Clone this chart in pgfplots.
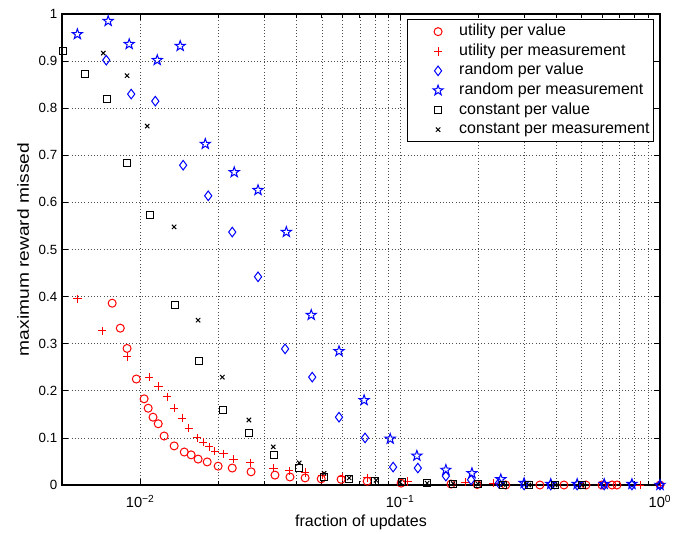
\documentclass[border=0pt]{standalone}
\usepackage{fontspec}
\setmainfont{Liberation Sans}
\usepackage{pgfplots}
\pgfplotsset{compat=1.18}

% MATLAB-style outlined pentagram
\pgfdeclareplotmark{pentagram}{%
  \pgfpathmoveto{\pgfpointpolar{90}{\pgfplotmarksize}}%
  \pgfpathlineto{\pgfpointpolar{126}{0.40\pgfplotmarksize}}%
  \pgfpathlineto{\pgfpointpolar{162}{\pgfplotmarksize}}%
  \pgfpathlineto{\pgfpointpolar{198}{0.40\pgfplotmarksize}}%
  \pgfpathlineto{\pgfpointpolar{234}{\pgfplotmarksize}}%
  \pgfpathlineto{\pgfpointpolar{270}{0.40\pgfplotmarksize}}%
  \pgfpathlineto{\pgfpointpolar{306}{\pgfplotmarksize}}%
  \pgfpathlineto{\pgfpointpolar{342}{0.40\pgfplotmarksize}}%
  \pgfpathlineto{\pgfpointpolar{18}{\pgfplotmarksize}}%
  \pgfpathlineto{\pgfpointpolar{54}{0.40\pgfplotmarksize}}%
  \pgfpathclose\pgfusepathqstroke}

\begin{document}
\begin{tikzpicture}
\begin{axis}[
    name=ax,
    scale only axis,
    width=448.5pt, height=353.25pt,
    xmode=log,
    xmin=0.005, xmax=1,
    ymin=0, ymax=1,
    clip=false,
    xtick={0.01,0.1,1},
    xticklabels={10\textsuperscript{−2},10\textsuperscript{−1},10\textsuperscript{0}},
    ytick={0,0.1,...,1},
    /pgf/number format/assume math mode=true,
    yticklabel style={font=\fontsize{10}{12}\selectfont},
    xticklabel style={font=\fontsize{11}{13}\selectfont, yshift=-4pt},
    grid=both,
    major grid style={dotted, black!70, line width=0.5pt},
    minor grid style={dotted, black!70, line width=0.5pt},
    axis line style={line width=0.8pt},
    tick style={black, line width=0.6pt},
    xlabel={fraction of updates},
    ylabel={\scalebox{1.2}[1]{maximum reward missed}},
    label style={font=\fontsize{12}{14}\selectfont},
    xlabel style={at={(axis description cs:0.5,-0.0786)}, anchor=center},
    ylabel style={at={(axis description cs:-0.065,0.5)}, anchor=center},
    legend cell align=left,
    legend style={at={(0.99,0.989)}, anchor=north east, draw=black,
        line width=0.7pt, font=\fontsize{12}{14}\selectfont,
        inner xsep=2pt, inner ysep=3pt, row sep=2.7pt,
        nodes={inner xsep=1pt, inner ysep=0pt, text height=9pt, text depth=3pt}},
    legend image code/.code={%
        \path (0pt,0pt) (35pt,0pt);
        \draw[#1, only marks] plot coordinates {(20.5pt,0pt)};},
    every axis plot/.append style={only marks, line width=0.75pt},
]
% utility per value
\addplot[red, mark=o, mark size=3pt] coordinates {
(0.0078,0.386) (0.00838,0.333) (0.0089,0.290) (0.00966,0.225) (0.01035,0.183)
(0.01073,0.163) (0.0112,0.144) (0.01173,0.130) (0.01236,0.104) (0.01351,0.083)
(0.01477,0.070) (0.0157,0.064) (0.0167,0.055) (0.0181,0.049) (0.01995,0.040)
(0.0226,0.036) (0.0267,0.028) (0.033,0.021) (0.0377,0.017) (0.0431,0.015)
(0.0497,0.013) (0.0593,0.012) (0.0747,0.008) (0.1009,0.004) (0.157,0.002)
(0.198,0.001) (0.255,0) (0.345,0) (0.427,0) (0.519,0) (0.598,0) (0.654,0)
(0.683,0) (1,0)};
\addlegendentry{utility per value}
% utility per measurement
\addplot[red, mark=+, mark size=3.2pt] coordinates {
(0.00573,0.395) (0.00714,0.327) (0.0089,0.272) (0.01083,0.229) (0.01173,0.210)
(0.0127,0.187) (0.0135,0.163) (0.0145,0.142) (0.0154,0.121) (0.01657,0.100)
(0.01747,0.091) (0.0184,0.081) (0.0194,0.072) (0.0209,0.066) (0.0228,0.055)
(0.0265,0.047) (0.0325,0.036) (0.0374,0.030) (0.0431,0.026) (0.0501,0.021)
(0.0598,0.017) (0.0747,0.015) (0.107,0.008) (0.178,0.006) (0.228,0.004)
(0.838,0) (1,0)};
\addlegendentry{utility per measurement}
% random per value
\addplot[blue, mark=diamond, mark size=3.6pt] coordinates {
(0.0074,0.902) (0.00923,0.830) (0.01143,0.815) (0.01463,0.679) (0.01827,0.614)
(0.0226,0.537) (0.0284,0.442) (0.0361,0.289) (0.0459,0.229) (0.0582,0.144)
(0.0733,0.100) (0.094,0.038) (0.117,0.036) (0.150,0.019) (0.1875,0.011)
(0.24,0.004) (0.30,0) (0.38,0) (0.48,0) (0.61,0) (0.78,0) (1,0)};
\addlegendentry{random per value}
% random per measurement
\addplot[blue, mark=pentagram, mark size=4pt] coordinates {
(0.00573,0.957) (0.00753,0.985) (0.00907,0.936) (0.01163,0.902) (0.01425,0.932)
(0.0178,0.724) (0.023,0.664) (0.0284,0.626) (0.0365,0.537) (0.0455,0.361)
(0.0582,0.284) (0.0727,0.180) (0.0916,0.098) (0.116,0.062) (0.150,0.032)
(0.189,0.025) (0.244,0.012) (0.30,0.004) (0.38,0.002) (0.48,0.002)
(0.61,0.002) (0.78,0.002) (1,0)};
\addlegendentry{random per measurement}
% constant per value
\addplot[black, mark=square, mark size=2.6pt] coordinates {
(0.00506,0.921) (0.00614,0.873) (0.00746,0.819) (0.0089,0.683) (0.01092,0.573)
(0.01364,0.382) (0.01686,0.263) (0.0209,0.159) (0.0262,0.110) (0.0328,0.064)
(0.0409,0.036) (0.0510,0.017) (0.0637,0.013) (0.0801,0.008) (0.1018,0.006)
(0.127,0.004) (0.160,0.003) (0.1995,0.002) (0.249,0.001) (0.313,0)
(0.395,0) (0.501,0)};
\addlegendentry{constant per value}
% constant per measurement
\addplot[black, mark=x, mark size=2.3pt] coordinates {
(0.00721,0.917) (0.0089,0.869) (0.01064,0.762) (0.0135,0.548) (0.0167,0.350)
(0.0207,0.229) (0.0262,0.138) (0.0325,0.081) (0.0409,0.047) (0.051,0.025)
(0.0637,0.015) (0.0808,0.010) (0.1,0.006) (0.127,0.004) (0.16,0.003)
(0.1995,0.002) (0.249,0.001) (0.313,0) (0.395,0) (0.501,0)};
\addlegendentry{constant per measurement}
\end{axis}
\pgfresetboundingbox
\path ([shift={(-46.5pt,-36pt)}]ax.south west) rectangle ([shift={(16.5pt,10.5pt)}]ax.north east);
\end{tikzpicture}
\end{document}
